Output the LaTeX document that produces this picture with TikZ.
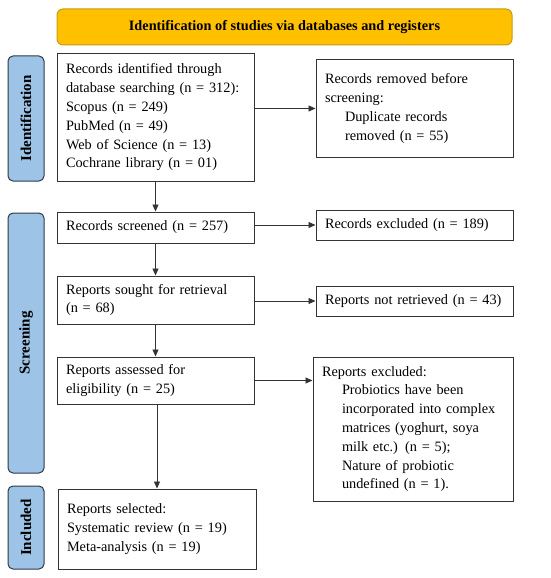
\documentclass[tikz,border=0pt]{standalone}
\usepackage{fontspec}
\setmainfont{Liberation Serif}
\usetikzlibrary{arrows.meta}
\definecolor{hdrfill}{HTML}{FFC000}
\definecolor{hdrdraw}{HTML}{C99A12}
\definecolor{sidefill}{HTML}{9DC3E6}
\definecolor{sidedraw}{HTML}{2E3A48}
\definecolor{boxdraw}{HTML}{333333}
\tikzset{
  x=1pt, y=1pt,
  txt/.style={font=\fontsize{14.3}{18.8}\selectfont},
  box/.style={draw=boxdraw, line width=1pt, fill=white, txt, align=left,
    inner xsep=9pt, inner ysep=0pt, anchor=center},
  side/.style={draw=sidedraw, fill=sidefill, line width=1pt, rounded corners=5pt,
    rotate=90, font=\fontsize{15}{17}\selectfont\bfseries, inner sep=0pt, anchor=center},
  arr/.style={draw=boxdraw, line width=0.9pt, -{Triangle[length=7pt,width=6pt]}},
}
\newcommand{\ind}{\hspace*{20pt}}
\begin{document}
\begin{tikzpicture}
\useasboundingbox (0,0) rectangle (550,-578);
% header
\node[draw=hdrdraw, fill=hdrfill, line width=1pt, rounded corners=6pt,
  minimum width=455, minimum height=36, inner sep=0pt,
  font=\fontsize{14.3}{16}\selectfont\bfseries] (hdr) at (284.5,-27) {Identification of studies via databases and registers};
% side labels
\node[side, minimum width=125, minimum height=36] (sid) at (26,-118.5) {Identification};
\node[side, minimum width=260, minimum height=36] (sscr) at (26,-343) {Screening};
\node[side, minimum width=83, minimum height=36] (sinc) at (26,-527.5) {Included};
% boxes
\node[box, minimum width=197, minimum height=127, text width=179] (b1) at (155.5,-117.5)
 {Records identified through\\database searching (n = 312):\\Scopus (n = 249)\\PubMed (n = 49)\\Web of Science (n = 13)\\Cochrane library (n = 01)};
\node[box, minimum width=197, minimum height=97, text width=179] (b2) at (414.5,-108.5)
 {Records removed before\\screening:\\\ind Duplicate records\\\ind removed (n = 55)};
\node[box, minimum width=197, minimum height=31, text width=179] (b3) at (155.5,-227.5)
 {Records screened (n = 257)};
\node[box, minimum width=197, minimum height=30, text width=179] (b4) at (414.5,-225)
 {Records excluded (n = 189)};
\node[box, minimum width=197, minimum height=48, text width=179] (b5) at (155.5,-300)
 {Reports sought for retrieval\\(n = 68)};
\node[box, minimum width=197, minimum height=30, text width=179] (b6) at (414.5,-301)
 {Reports not retrieved (n = 43)};
\node[box, minimum width=197, minimum height=47, text width=179] (b7) at (155.5,-380.5)
 {Reports assessed for\\eligibility (n = 25)};
\node[box, minimum width=200, minimum height=144, text width=182] (b8) at (413,-429)
 {Reports excluded:\\\ind Probiotics have been\\\ind incorporated into complex\\\ind matrices (yoghurt, soya\\\ind milk etc.) (n = 5);\\\ind Nature of probiotic\\\ind undefined (n = 1).};
\node[box, minimum width=198, minimum height=80, text width=180] (b9) at (157,-529)
 {Reports selected:\\Systematic review (n = 19)\\Meta-analysis (n = 19)};
% arrows
\draw[arr] (b1.east |- b2.west) -- (b2.west);
\draw[arr] (b1.south) -- (b3.north);
\draw[arr] (b3.east |- b4.west) -- (b4.west);
\draw[arr] (b3.south) -- (b5.north);
\draw[arr] (b5.east |- b6.west) -- (b6.west);
\draw[arr] (b5.south) -- (b7.north);
\draw[arr] (b7.east) -- (b7.east -| b8.west);
\draw[arr] (b9.north |- b7.south) -- (b9.north);
\end{tikzpicture}
\end{document}
